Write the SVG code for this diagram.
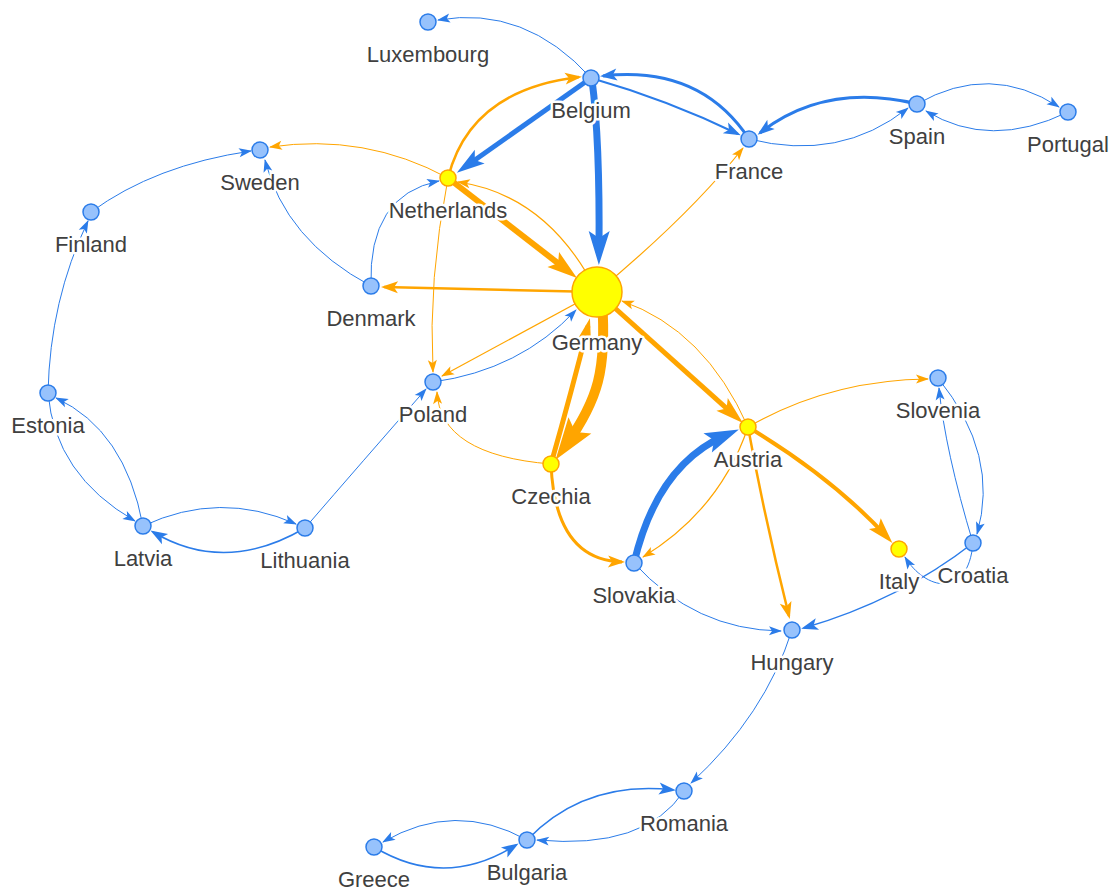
<svg xmlns="http://www.w3.org/2000/svg" width="1115" height="891" viewBox="0 0 1115 891">
<style>
.e{fill:none;stroke-linecap:butt}
.b{stroke:#2b7ce9}
.o{stroke:#ffa500}
.n{fill:#97c2fc;stroke:#2b7ce9;stroke-width:1.5}
.y{fill:#ffff00;stroke:#ffa500;stroke-width:1.5}
text{font-family:"Liberation Sans",Arial,sans-serif;font-size:22px;fill:#404040;text-anchor:middle;paint-order:stroke;stroke:#fff;stroke-width:5;stroke-linejoin:round}
</style>
<defs>
<marker id="bT" markerUnits="userSpaceOnUse" orient="auto" markerWidth="13" markerHeight="9" refX="12" refY="4.5" overflow="visible"><path d="M0,0 L13,4.5 L0,9 L3,4.5 z" fill="#2b7ce9"/></marker>
<marker id="oT" markerUnits="userSpaceOnUse" orient="auto" markerWidth="13" markerHeight="9" refX="12" refY="4.5" overflow="visible"><path d="M0,0 L13,4.5 L0,9 L3,4.5 z" fill="#ffa500"/></marker>
<marker id="bM" markerUnits="userSpaceOnUse" orient="auto" markerWidth="17" markerHeight="12" refX="14" refY="6" overflow="visible"><path d="M0,0 L17,6 L0,12 L4,6 z" fill="#2b7ce9"/></marker>
<marker id="oM" markerUnits="userSpaceOnUse" orient="auto" markerWidth="17" markerHeight="12" refX="14" refY="6" overflow="visible"><path d="M0,0 L17,6 L0,12 L4,6 z" fill="#ffa500"/></marker>
<marker id="b5" markerUnits="userSpaceOnUse" orient="auto" markerWidth="28" markerHeight="17" refX="18" refY="8.5" overflow="visible"><path d="M0,0 L28,8.5 L0,17 L6,8.5 z" fill="#2b7ce9"/></marker>
<marker id="b7" markerUnits="userSpaceOnUse" orient="auto" markerWidth="34" markerHeight="21" refX="20" refY="10.5" overflow="visible"><path d="M0,0 L34,10.5 L0,21 L7,10.5 z" fill="#2b7ce9"/></marker>
<marker id="o4" markerUnits="userSpaceOnUse" orient="auto" markerWidth="26" markerHeight="16" refX="18" refY="8" overflow="visible"><path d="M0,0 L26,8 L0,16 L5,8 z" fill="#ffa500"/></marker>
<marker id="o5" markerUnits="userSpaceOnUse" orient="auto" markerWidth="28" markerHeight="17" refX="18" refY="8.5" overflow="visible"><path d="M0,0 L28,8.5 L0,17 L6,8.5 z" fill="#ffa500"/></marker>
<marker id="o5s" markerUnits="userSpaceOnUse" orient="auto" markerWidth="22" markerHeight="13" refX="14" refY="6.5" overflow="visible"><path d="M0,0 L22,6.5 L0,13 L4,6.5 z" fill="#ffa500"/></marker>
<marker id="o6" markerUnits="userSpaceOnUse" orient="auto" markerWidth="30" markerHeight="19" refX="18" refY="9.5" overflow="visible"><path d="M0,0 L30,9.5 L0,19 L6,9.5 z" fill="#ffa500"/></marker>
<marker id="o10" markerUnits="userSpaceOnUse" orient="auto" markerWidth="42" markerHeight="28" refX="24" refY="14" overflow="visible"><path d="M0,0 L42,14 L0,28 L8,14 z" fill="#ffa500"/></marker>
</defs>
<rect width="1115" height="891" fill="#fff"/>
<g id="edges">
<path class="e b" stroke-width="1" marker-end="url(#bT)" d="M591,78 Q525,5 438,20"/>
<path class="e b" stroke-width="3" marker-end="url(#bM)" d="M749,139 Q700,65 603,76"/>
<path class="e b" stroke-width="2" marker-end="url(#bM)" d="M591,78 Q668,100 738,134"/>
<path class="e b" stroke-width="5" marker-end="url(#b5)" d="M591,78 L465,167"/>
<path class="e o" stroke-width="2.5" marker-end="url(#oM)" d="M448,178 Q470,90 579,77"/>
<path class="e b" stroke-width="7" marker-end="url(#b7)" d="M592,80 Q600,140 599,251"/>
<path class="e o" stroke-width="6" marker-end="url(#o6)" d="M448,178 L567.5,270.6"/>
<path class="e o" stroke-width="1.2" marker-end="url(#oT)" d="M597,292 Q548,195 458,182"/>
<path class="e o" stroke-width="1" marker-end="url(#oT)" d="M448,178 Q365,133 270,147"/>
<path class="e b" stroke-width="1" marker-end="url(#bT)" d="M371,286 Q368,195 439,181"/>
<path class="e b" stroke-width="1" marker-end="url(#bT)" d="M371,286 Q285,240 265,160"/>
<path class="e b" stroke-width="1" marker-end="url(#bT)" d="M91,212 Q155,165 251,151"/>
<path class="e b" stroke-width="1" marker-end="url(#bT)" d="M48,393 Q50,300 88,221"/>
<path class="e b" stroke-width="1" marker-end="url(#bT)" d="M48,393 Q55,475 135,521"/>
<path class="e b" stroke-width="1" marker-end="url(#bT)" d="M143,526 Q125,430 56,398"/>
<path class="e b" stroke-width="1" marker-end="url(#bT)" d="M143,526 Q220,490 296,524"/>
<path class="e b" stroke-width="1.5" marker-end="url(#bM)" d="M305,528 Q225,575 153,532"/>
<path class="e b" stroke-width="1" marker-end="url(#bT)" d="M305,528 Q362,462 426,389"/>
<path class="e b" stroke-width="1" marker-end="url(#bT)" d="M433,382 Q520,370 576,310"/>
<path class="e o" stroke-width="1.2" marker-end="url(#oT)" d="M597,292 L442,376"/>
<path class="e o" stroke-width="2.5" marker-end="url(#oM)" d="M597,292 L384,287"/>
<path class="e o" stroke-width="1" marker-end="url(#oT)" d="M448,178 Q428,280 433,372"/>
<path class="e o" stroke-width="1" marker-end="url(#oT)" d="M551,464 Q440,455 437,392"/>
<path class="e o" stroke-width="1.2" marker-end="url(#oT)" d="M597,292 Q690,215 743,148"/>
<path class="e o" stroke-width="10" marker-end="url(#o10)" d="M602,300 C607,370 598,400 566,445"/>
<path class="e o" stroke-width="5" marker-end="url(#o5s)" d="M551,464 Q572,390 588,326"/>
<path class="e o" stroke-width="5" marker-end="url(#o5)" d="M597,292 L735.5,416.4"/>
<path class="e o" stroke-width="1" marker-end="url(#oT)" d="M748,427 Q705,330 622,301"/>
<path class="e o" stroke-width="3" marker-end="url(#oM)" d="M551,464 Q555,560 622,562"/>
<path class="e b" stroke-width="7" marker-end="url(#b7)" d="M634,563 Q657,465 726,435"/>
<path class="e o" stroke-width="1.2" marker-end="url(#oT)" d="M748,427 Q720,510 643,557"/>
<path class="e o" stroke-width="1.2" marker-end="url(#oT)" d="M748,427 Q830,380 928,379"/>
<path class="e o" stroke-width="4" marker-end="url(#o4)" d="M748,427 Q833,478 887,537"/>
<path class="e o" stroke-width="2.5" marker-end="url(#oM)" d="M748,427 Q765,520 789,616"/>
<path class="e b" stroke-width="1" marker-end="url(#bT)" d="M634,563 Q695,630 781,631"/>
<path class="e b" stroke-width="1.5" marker-end="url(#bM)" d="M973,543 Q900,600 804,628"/>
<path class="e b" stroke-width="1" marker-end="url(#bT)" d="M973,543 C968,600 925,590 905,557"/>
<path class="e b" stroke-width="1" marker-end="url(#bT)" d="M938,378 Q1000,455 977,534"/>
<path class="e b" stroke-width="1" marker-end="url(#bT)" d="M973,543 Q945,450 939,388"/>
<path class="e b" stroke-width="1" marker-end="url(#bT)" d="M792,630 Q765,715 691,783"/>
<path class="e b" stroke-width="1.5" marker-end="url(#bM)" d="M527,840 Q585,780 673,790"/>
<path class="e b" stroke-width="1" marker-end="url(#bT)" d="M684,791 Q645,850 537,840"/>
<path class="e b" stroke-width="1" marker-end="url(#bT)" d="M527,840 Q455,800 383,842"/>
<path class="e b" stroke-width="1.5" marker-end="url(#bM)" d="M374,847 Q445,890 516,845"/>
<path class="e b" stroke-width="3" marker-end="url(#bM)" d="M917,104 Q825,82 760,133"/>
<path class="e b" stroke-width="1" marker-end="url(#bT)" d="M749,139 Q840,162 908,108"/>
<path class="e b" stroke-width="1" marker-end="url(#bT)" d="M917,104 Q990,62 1059,107"/>
<path class="e b" stroke-width="1" marker-end="url(#bT)" d="M1068,112 Q990,150 926,111"/>
</g>
<g id="n-luxembourg"><circle class="n" cx="428" cy="22" r="8"/><text x="428" y="62">Luxembourg</text></g>
<g id="n-belgium"><circle class="n" cx="591" cy="78" r="8"/><text x="591" y="118">Belgium</text></g>
<g id="n-france"><circle class="n" cx="749" cy="139" r="8"/><text x="749" y="179">France</text></g>
<g id="n-spain"><circle class="n" cx="917" cy="104" r="8"/><text x="917" y="144">Spain</text></g>
<g id="n-portugal"><circle class="n" cx="1068" cy="112" r="8"/><text x="1068" y="152">Portugal</text></g>
<g id="n-netherlands"><circle class="y" cx="448" cy="178" r="8"/><text x="448" y="218">Netherlands</text></g>
<g id="n-sweden"><circle class="n" cx="260" cy="150" r="8"/><text x="260" y="190">Sweden</text></g>
<g id="n-finland"><circle class="n" cx="91" cy="212" r="8"/><text x="91" y="252">Finland</text></g>
<g id="n-denmark"><circle class="n" cx="371" cy="286" r="8"/><text x="371" y="326">Denmark</text></g>
<g id="n-germany"><circle class="y" cx="597" cy="292" r="25"/><text x="597" y="350">Germany</text></g>
<g id="n-poland"><circle class="n" cx="433" cy="382" r="8"/><text x="433" y="422">Poland</text></g>
<g id="n-estonia"><circle class="n" cx="48" cy="393" r="8"/><text x="48" y="433">Estonia</text></g>
<g id="n-latvia"><circle class="n" cx="143" cy="526" r="8"/><text x="143" y="566">Latvia</text></g>
<g id="n-lithuania"><circle class="n" cx="305" cy="528" r="8"/><text x="305" y="568">Lithuania</text></g>
<g id="n-czechia"><circle class="y" cx="551" cy="464" r="8"/><text x="551" y="504">Czechia</text></g>
<g id="n-austria"><circle class="y" cx="748" cy="427" r="8"/><text x="748" y="467">Austria</text></g>
<g id="n-slovenia"><circle class="n" cx="938" cy="378" r="8"/><text x="938" y="418">Slovenia</text></g>
<g id="n-croatia"><circle class="n" cx="973" cy="543" r="8"/><text x="973" y="583">Croatia</text></g>
<g id="n-italy"><circle class="y" cx="899" cy="549" r="8"/><text x="899" y="589">Italy</text></g>
<g id="n-slovakia"><circle class="n" cx="634" cy="563" r="8"/><text x="634" y="603">Slovakia</text></g>
<g id="n-hungary"><circle class="n" cx="792" cy="630" r="8"/><text x="792" y="670">Hungary</text></g>
<g id="n-romania"><circle class="n" cx="684" cy="791" r="8"/><text x="684" y="831">Romania</text></g>
<g id="n-bulgaria"><circle class="n" cx="527" cy="840" r="8"/><text x="527" y="880">Bulgaria</text></g>
<g id="n-greece"><circle class="n" cx="374" cy="847" r="8"/><text x="374" y="887">Greece</text></g>
</svg>
